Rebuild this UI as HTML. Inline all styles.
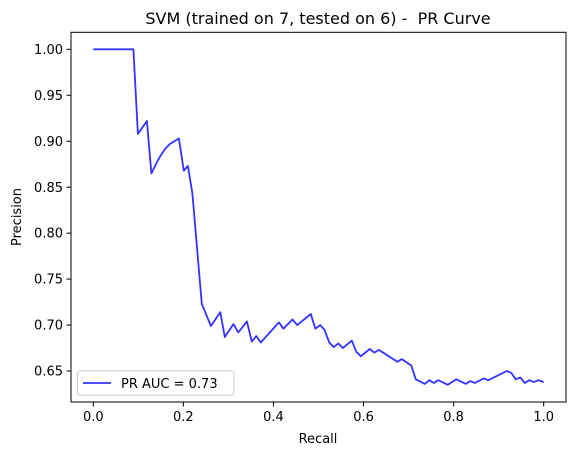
<!DOCTYPE html>
<html><head><meta charset="utf-8"><style>
html,body{margin:0;padding:0;background:#fff;}
svg{display:block;font-family:"DejaVu Sans","Liberation Sans",sans-serif;}
</style></head><body>
<svg id="chart" width="576" height="455" viewBox="0 0 576 455">
<text x="318" y="24" font-size="16" text-anchor="middle">SVM (trained on 7, tested on 6) -&#160; PR Curve</text>
<rect x="71" y="32.3" width="495" height="369.7" fill="none" stroke="#000" stroke-width="1"/>
<g id="xticks"></g>
<g id="yticks"></g>
<text x="318" y="443" font-size="13" text-anchor="middle">Recall</text>
<text transform="translate(21,217) rotate(-90)" font-size="13" text-anchor="middle">Precision</text>
<polyline id="curve" fill="none" stroke="#3333ff" stroke-width="1.8" stroke-linejoin="round"/>
<g>
<rect x="77.5" y="370.7" width="156.5" height="24.5" rx="3" fill="#fff" fill-opacity="0.8" stroke="#ccc"/>
<line x1="83" y1="383" x2="111" y2="383" stroke="#3333ff" stroke-width="1.8"/>
<text x="121" y="387.8" font-size="13">PR AUC = 0.73</text>
</g>
</svg>
<script>
const recall=[0,0.089,0.099,0.119,0.129,0.14,0.15,0.16,0.17,0.18,0.19,0.201,0.21,0.22,0.241,0.261,0.282,0.292,0.311,0.322,0.341,0.352,0.362,0.372,0.412,0.422,0.442,0.453,0.483,0.493,0.504,0.513,0.524,0.534,0.544,0.554,0.574,0.584,0.594,0.614,0.624,0.634,0.675,0.685,0.706,0.716,0.736,0.746,0.756,0.766,0.787,0.806,0.827,0.837,0.847,0.867,0.877,0.918,0.928,0.938,0.948,0.958,0.968,0.978,0.988,1.0];
const precision=[1,1,0.908,0.922,0.865,0.876,0.885,0.892,0.897,0.900,0.903,0.868,0.873,0.843,0.723,0.699,0.714,0.687,0.701,0.692,0.704,0.682,0.688,0.681,0.703,0.696,0.706,0.700,0.712,0.696,0.700,0.695,0.681,0.676,0.680,0.675,0.683,0.671,0.666,0.674,0.670,0.673,0.660,0.663,0.656,0.641,0.636,0.640,0.637,0.640,0.635,0.641,0.636,0.639,0.637,0.642,0.640,0.650,0.648,0.641,0.643,0.637,0.640,0.638,0.640,0.638];
const xTicks=[0,0.2,0.4,0.6,0.8,1.0];
const xTickLabels=["0.0","0.2","0.4","0.6","0.8","1.0"];
const yTicks=[0.65,0.7,0.75,0.8,0.85,0.9,0.95,1.0];
const yTickLabels=["0.65","0.70","0.75","0.80","0.85","0.90","0.95","1.00"];
const NS="http://www.w3.org/2000/svg";
const xs=v=>93.3+v*450.4;
const ys=v=>49.3+(1-v)*919.2;
const xg=document.getElementById('xticks'), yg=document.getElementById('yticks');
xTicks.forEach((t,i)=>{
  const l=document.createElementNS(NS,'line');
  l.setAttribute('x1',xs(t));l.setAttribute('x2',xs(t));l.setAttribute('y1',402);l.setAttribute('y2',406.5);l.setAttribute('stroke','#000');
  
  
  xg.appendChild(l);
  const tx=document.createElementNS(NS,'text');
  tx.setAttribute('x',xs(t));tx.setAttribute('y',421);tx.setAttribute('font-size','13');tx.setAttribute('text-anchor','middle');
  tx.textContent=xTickLabels[i];
  
  
  xg.appendChild(tx);
});
yTicks.forEach((t,i)=>{
  const l=document.createElementNS(NS,'line');
  l.setAttribute('x1',66.5);l.setAttribute('x2',71);l.setAttribute('y1',ys(t));l.setAttribute('y2',ys(t));l.setAttribute('stroke','#000');
  
  
  yg.appendChild(l);
  const tx=document.createElementNS(NS,'text');
  tx.setAttribute('x',63);tx.setAttribute('y',ys(t)+4.6);tx.setAttribute('font-size','13');tx.setAttribute('text-anchor','end');
  tx.textContent=yTickLabels[i];
  
  
  yg.appendChild(tx);
});
document.getElementById('curve').setAttribute('points',recall.map((r,i)=>xs(r).toFixed(1)+','+ys(precision[i]).toFixed(1)).join(' '));
</script>
</body></html>
